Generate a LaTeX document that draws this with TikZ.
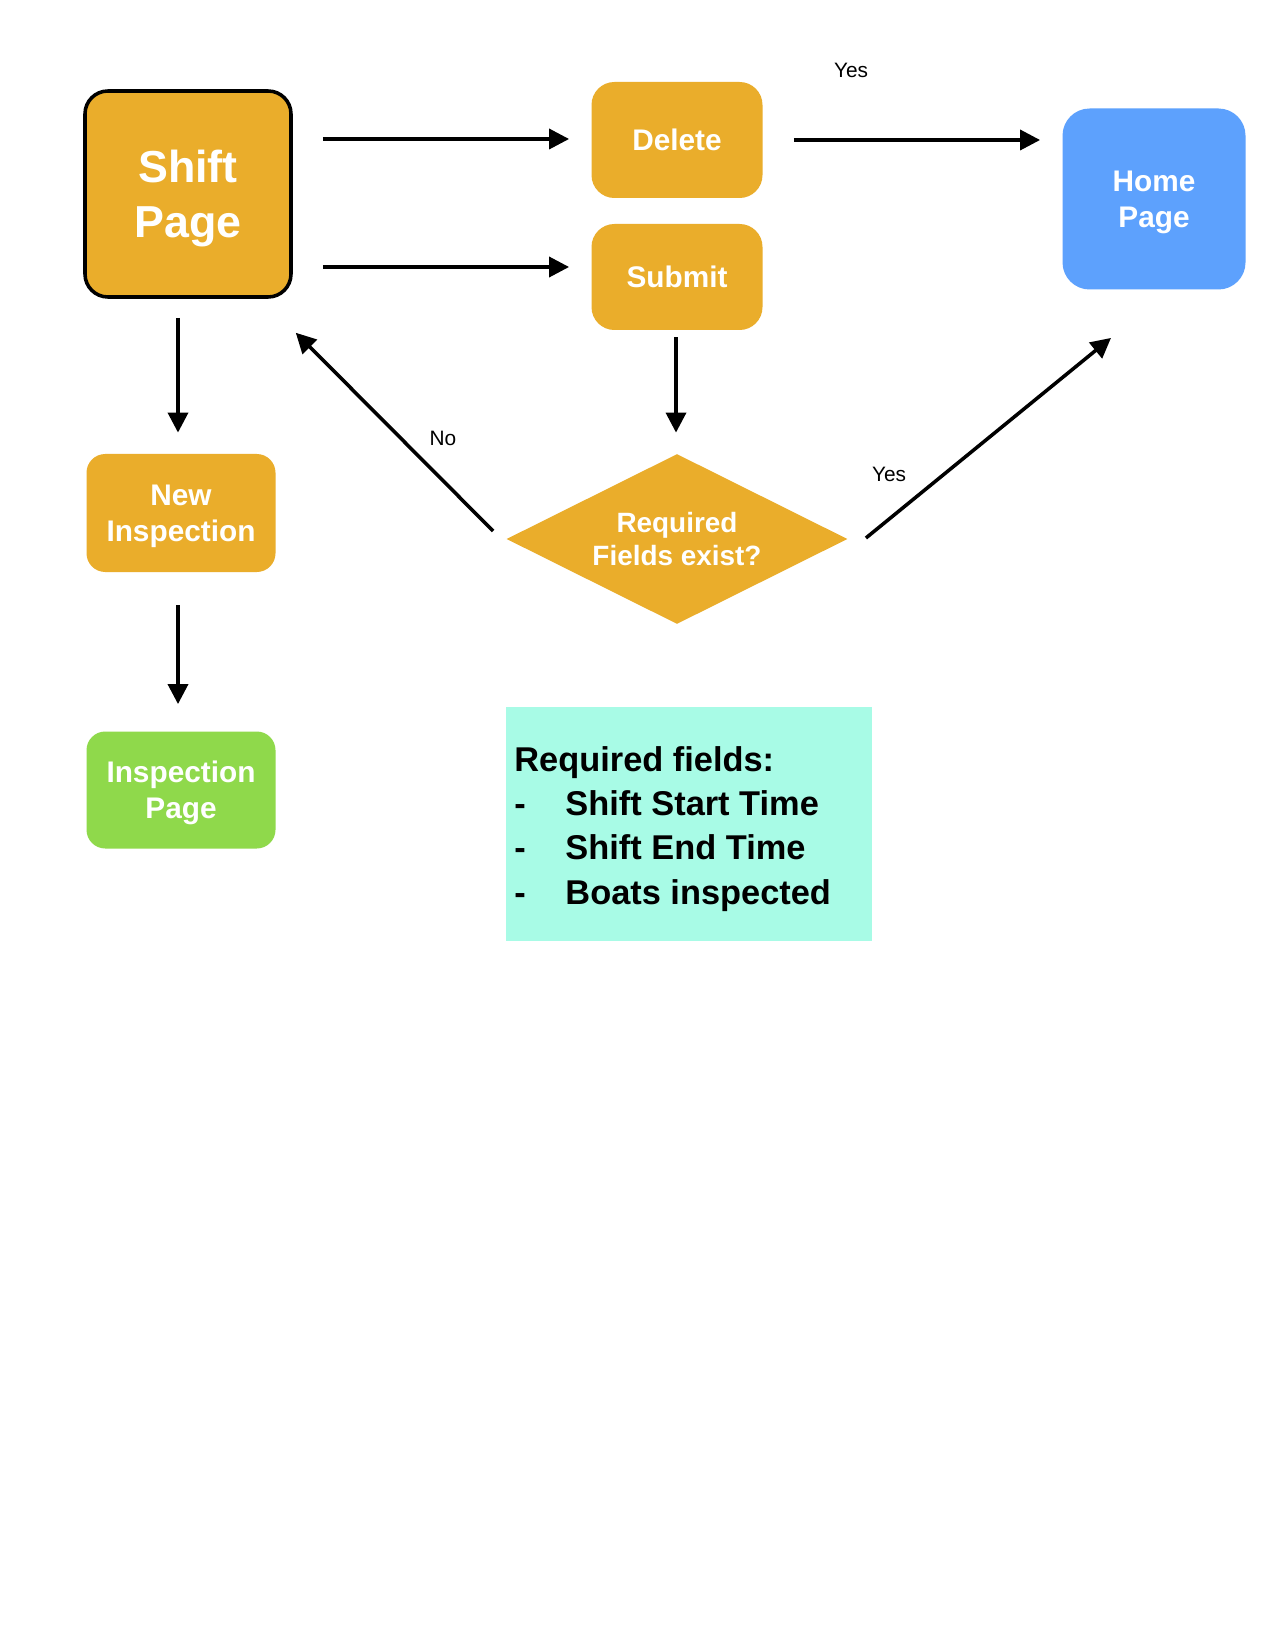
\documentclass[tikz,border=0pt]{standalone}
\usepackage{fontspec}
\setmainfont{Liberation Sans}
\usetikzlibrary{arrows.meta,shapes.geometric}

\definecolor{amber}{RGB}{234,173,43}
\definecolor{skyblue}{RGB}{93,161,253}
\definecolor{leafgreen}{RGB}{143,217,75}
\definecolor{mint}{RGB}{168,251,230}

% centred lines of a box, lowered so that the capitals sit in the optical middle
\newcommand{\boxlines}[2]{\raisebox{-#1}[\height][\depth]{\begin{tabular}{@{}c@{}}#2\end{tabular}}}

\begin{document}
\begin{tikzpicture}[x=0.48pt,y=-0.48pt,
  pagebox/.style={rectangle, inner sep=0pt, text=white},
  bigtext/.style={font=\fontsize{21.5}{26.4}\selectfont\bfseries},
  midtext/.style={font=\fontsize{14.3}{17.5}\selectfont\bfseries},
  lbl/.style={font=\fontsize{10}{12}\selectfont, inner sep=0pt},
  arr/.style={line width=1.7pt, -{Triangle[length=9.6pt,width=9.6pt]}}]

% page area
\path[use as bounding box, fill=white] (0,0) rectangle (1275,1650);

% boxes
\node[pagebox, bigtext, fill=amber, draw=black, line width=1.7pt, rounded corners=11pt,
      minimum width={206*0.48pt}, minimum height={206*0.48pt}] (shift) at (188,194) {\boxlines{2.6pt}{Shift\\Page}};
\node[pagebox, midtext, fill=amber, rounded corners=11pt,
      minimum width={171*0.48pt}, minimum height={116*0.48pt}] (delete) at (677,140) {\boxlines{1.6pt}{Delete}};
\node[pagebox, midtext, fill=amber, rounded corners=11pt,
      minimum width={171*0.48pt}, minimum height={106*0.48pt}] (submit) at (677,277) {\boxlines{1.6pt}{Submit}};
\node[pagebox, midtext, fill=skyblue, rounded corners=13pt,
      minimum width={183*0.48pt}, minimum height={181*0.48pt}] (home) at (1154,199) {\boxlines{1.6pt}{Home\\Page}};
\node[pagebox, midtext, fill=amber, rounded corners=9pt,
      minimum width={189*0.48pt}, minimum height={118*0.48pt}] (newinsp) at (181,513) {\boxlines{1.6pt}{New\\Inspection}};
\node[pagebox, midtext, fill=leafgreen, rounded corners=9pt,
      minimum width={189*0.48pt}, minimum height={117*0.48pt}] (insppage) at (181,790) {\boxlines{1.6pt}{Inspection\\Page}};

% decision
\node[diamond, fill=amber, inner sep=0pt,
      minimum width={341*0.48pt}, minimum height={170*0.48pt}] (dia) at (677,539) {};
\node[text=white, inner sep=0pt, font=\fontsize{13.4}{15.8}\selectfont\bfseries] (diatext) at (dia.center)
  {\boxlines{1.6pt}{Required\\Fields exist?}};

% note of required fields
\node[rectangle, fill=mint, inner sep=0pt,
      minimum width={366*0.48pt}, minimum height={234*0.48pt}] (req) at (689,824) {};
\node[anchor=west, align=left, inner sep=0pt, font=\fontsize{16.5}{21.2}\selectfont\bfseries] (reqtext) at (514,829)
  {Required fields:\\
   \makebox[24.5pt][l]{-}Shift Start Time\\
   \makebox[24.5pt][l]{-}Shift End Time\\
   \makebox[24.5pt][l]{-}Boats inspected};

% connectors
\draw[arr] ([shift={(30,-55)}]shift.east) -- ([shift={(-22,-1)}]delete.west);
\draw[arr] ([shift={(30,73)}]shift.east) -- ([shift={(-22,-10)}]submit.west);
\draw[arr, shorten >=10.56pt] ([xshift=14.9pt]delete.east) -- (delete.east -| home.west);
\draw[arr] ([shift={(-10,19)}]shift.south) -- ([shift={(-3,-21)}]newinsp.north);
\draw[arr] ([shift={(-3,33)}]newinsp.south) -- ([shift={(-3,-27)}]insppage.north);
\draw[arr] ([shift={(-1,7)}]submit.south) -- ([shift={(-1,-21)}]dia.north);
\draw[arr] ([shift={(-13,-8)}]dia.west) -- ([shift={(3,34)}]shift.south east);
\draw[arr] ([shift={(18,-1)}]dia.east) -- ([shift={(-43,48)}]home.south);

% branch labels
\node[lbl] (yestop) at (851,70) {Yes};
\node[lbl] (no) at (443,438) {No};
\node[lbl] (yesright) at (889,474) {Yes};
\end{tikzpicture}
\end{document}
